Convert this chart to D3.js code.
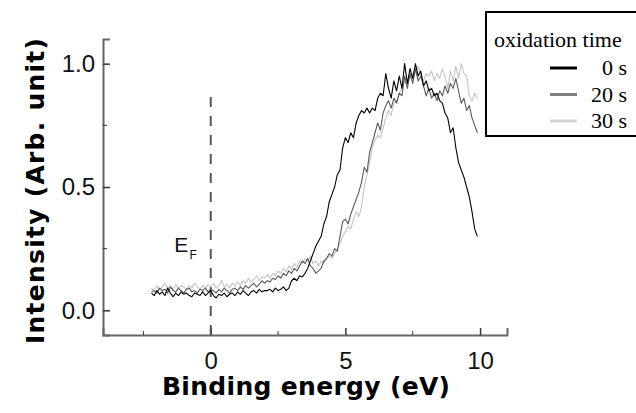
<!DOCTYPE html>
<html>
<head>
<meta charset="utf-8">
<script src="https://cdn.jsdelivr.net/npm/d3@7"></script>
<style>
  body { margin: 0; background: #fff; }
  svg { display: block; }
</style>
</head>
<body>
<div id="chart"></div>
<script>
// binding energy grid (eV)
var energy = [
  -2.2, -2.1, -2.0, -1.9, -1.8, -1.7, -1.6, -1.5, -1.4, -1.3, -1.2, -1.1, -1.0,
  -0.9, -0.8, -0.7, -0.6, -0.5, -0.4, -0.3, -0.2, -0.1, 0.0,
  0.1, 0.2, 0.3, 0.4, 0.5, 0.6, 0.7, 0.8, 0.9, 1.0,
  1.1, 1.2, 1.3, 1.4, 1.5, 1.6, 1.7, 1.8, 1.9, 2.0,
  2.1, 2.2, 2.3, 2.4, 2.5, 2.6, 2.7, 2.8, 2.9, 3.0,
  3.1, 3.2, 3.3, 3.4, 3.5, 3.6, 3.7, 3.8, 3.9, 4.0,
  4.1, 4.2, 4.3, 4.4, 4.5, 4.6, 4.7, 4.8, 4.9, 5.0,
  5.1, 5.2, 5.3, 5.4, 5.5, 5.6, 5.7, 5.8, 5.9, 6.0,
  6.1, 6.2, 6.3, 6.4, 6.5, 6.6, 6.7, 6.8, 6.9, 7.0,
  7.1, 7.2, 7.3, 7.4, 7.5, 7.6, 7.7, 7.8, 7.9, 8.0,
  8.1, 8.2, 8.3, 8.4, 8.5, 8.6, 8.7, 8.8, 8.9, 9.0,
  9.1, 9.2, 9.3, 9.4, 9.5, 9.6, 9.7, 9.8, 9.9
];

// intensity, 0 s
var int0s = [
  0.07, 0.06, 0.08, 0.065, 0.075, 0.06, 0.09, 0.07, 0.055, 0.07, 0.06, 0.075, 0.065,
  0.07, 0.06, 0.055, 0.07, 0.065, 0.06, 0.075, 0.06, 0.07, 0.08,
  0.06, 0.05, 0.065, 0.06, 0.07, 0.055, 0.065, 0.07, 0.06, 0.075,
  0.065, 0.08, 0.07, 0.06, 0.075, 0.08, 0.07, 0.085, 0.075, 0.08,
  0.08, 0.085, 0.075, 0.09, 0.08, 0.085, 0.095, 0.08, 0.09, 0.12,
  0.13, 0.12, 0.14, 0.135, 0.15, 0.17, 0.2, 0.23, 0.26, 0.28,
  0.3, 0.35, 0.38, 0.44, 0.47, 0.5, 0.55, 0.57, 0.66, 0.7,
  0.68, 0.72, 0.7, 0.76, 0.79, 0.81, 0.8, 0.82, 0.8, 0.82,
  0.81, 0.86, 0.88, 0.87, 0.96, 0.9, 0.86, 0.93, 0.89, 0.95,
  0.9, 1.0, 0.92, 0.98, 0.94, 1.0, 0.95, 0.97, 0.91, 0.93,
  0.89, 0.9, 0.87, 0.88, 0.85, 0.84, 0.8, 0.78, 0.72, 0.74,
  0.66, 0.6, 0.57, 0.54, 0.5, 0.46, 0.4, 0.33, 0.3
];

// intensity, 20 s
var int20s = [
  0.075, 0.08, 0.07, 0.09, 0.08, 0.085, 0.07, 0.095, 0.08, 0.075, 0.09, 0.08, 0.07,
  0.085, 0.09, 0.075, 0.08, 0.07, 0.085, 0.08, 0.09, 0.075, 0.085,
  0.08, 0.07, 0.085, 0.075, 0.09, 0.08, 0.07, 0.085, 0.09, 0.08,
  0.095, 0.085, 0.1, 0.09, 0.1, 0.11, 0.095, 0.105, 0.12, 0.11,
  0.12, 0.115, 0.13, 0.125, 0.14, 0.13, 0.15, 0.14, 0.16, 0.15,
  0.17, 0.16, 0.18, 0.2, 0.19, 0.21, 0.18, 0.17, 0.15, 0.16,
  0.17, 0.2, 0.21, 0.23, 0.22, 0.25, 0.24, 0.3, 0.36, 0.37,
  0.35, 0.39, 0.42, 0.45, 0.48, 0.52, 0.58, 0.56, 0.64, 0.68,
  0.72, 0.76, 0.73, 0.8, 0.83, 0.85, 0.82, 0.86, 0.84, 0.88,
  0.87, 0.95, 0.9, 0.96, 0.92, 0.98, 0.93, 0.95, 0.91, 0.87,
  0.9, 0.86, 0.88, 0.85, 0.89, 0.87, 0.91, 0.88, 0.92, 0.9,
  0.94, 0.89, 0.84, 0.86, 0.81, 0.83, 0.78, 0.75, 0.72
];

// intensity, 30 s
var int30s = [
  0.09, 0.08, 0.1, 0.085, 0.095, 0.11, 0.09, 0.1, 0.085, 0.105, 0.09, 0.1, 0.095,
  0.085, 0.1, 0.09, 0.11, 0.095, 0.085, 0.1, 0.09, 0.105, 0.095,
  0.11, 0.09, 0.1, 0.12, 0.095, 0.105, 0.09, 0.11, 0.1, 0.115,
  0.1, 0.12, 0.11, 0.13, 0.115, 0.125, 0.14, 0.12, 0.135, 0.13,
  0.145, 0.13, 0.15, 0.14, 0.16, 0.15, 0.17, 0.155, 0.18, 0.165,
  0.19, 0.175, 0.2, 0.19, 0.21, 0.2, 0.22, 0.19, 0.2, 0.18,
  0.2, 0.19, 0.21, 0.22, 0.21, 0.23, 0.25, 0.27, 0.3, 0.32,
  0.34, 0.33, 0.37, 0.4, 0.38, 0.42, 0.5, 0.55, 0.6, 0.66,
  0.69, 0.71, 0.7, 0.74, 0.78, 0.81, 0.79, 0.84, 0.85, 0.88,
  0.9, 0.93, 0.91, 0.95, 0.94, 0.97, 0.99, 0.95, 0.93, 0.96,
  0.95, 0.97, 0.93, 0.96, 0.94, 0.98, 0.95, 0.9, 0.97, 0.93,
  0.99, 0.94, 1.0, 0.96, 0.95, 0.87, 0.85, 0.88, 0.86
];

var seriesNames = ["0 s", "20 s", "30 s"];
var seriesColors = ["#000000", "#5a5a5a", "#c4c4c4"];
var legendColors = ["#000000", "#808080", "#d6d6d6"];

var xMajorTicks = [0, 5, 10];
var xMinorTicks = [-2.5, 2.5, 7.5];
var yMajorTicks = [0.0, 0.5, 1.0];
var yMinorTicks = [0.25, 0.75];
var fermiTop = 0.865;

var width = 636, height = 413;
var margin = { top: 39, right: 129, bottom: 78, left: 103 };

var svg = d3.select("#chart").append("svg")
  .attr("width", width)
  .attr("height", height);

var x = d3.scaleLinear()
  .domain([-4, 11])
  .range([margin.left, width - margin.right]);

var y = d3.scaleLinear()
  .domain([-0.1, 1.1])
  .range([height - margin.bottom, margin.top]);

// axes (ticks point inward)
var xAxis = svg.append("g")
  .attr("transform", "translate(0," + (height - margin.bottom) + ")")
  .call(d3.axisBottom(x).tickValues(xMajorTicks).tickSize(-7).tickPadding(17)
    .tickFormat(d3.format("d")));

xAxis.selectAll(".minor")
  .data(xMinorTicks)
  .enter().append("line")
  .attr("class", "minor")
  .attr("x1", function (d) { return x(d); })
  .attr("x2", function (d) { return x(d); })
  .attr("y1", 0).attr("y2", -4)
  .attr("stroke", "#333");

var yAxis = svg.append("g")
  .attr("transform", "translate(" + margin.left + ",0)")
  .call(d3.axisLeft(y).tickValues(yMajorTicks).tickSize(-7).tickPadding(8)
    .tickFormat(d3.format(".1f")));

yAxis.selectAll(".minor")
  .data(yMinorTicks)
  .enter().append("line")
  .attr("class", "minor")
  .attr("y1", function (d) { return y(d); })
  .attr("y2", function (d) { return y(d); })
  .attr("x1", 0).attr("x2", 4)
  .attr("stroke", "#333");

svg.selectAll(".domain")
  .attr("stroke", "#666")
  .attr("stroke-width", 2);
svg.selectAll(".tick line")
  .attr("stroke", "#333")
  .attr("stroke-width", 1.5);
svg.selectAll(".tick text")
  .attr("font-family", "Liberation Sans, Arial, sans-serif")
  .attr("font-size", 24)
  .attr("fill", "#111");

// Fermi level marker
svg.append("line")
  .attr("x1", x(0)).attr("x2", x(0))
  .attr("y1", y(fermiTop)).attr("y2", y(-0.1))
  .attr("stroke", "#555")
  .attr("stroke-width", 2)
  .attr("stroke-dasharray", "10,9");

var ef = svg.append("text")
  .attr("x", x(-1.35))
  .attr("y", y(0.238))
  .attr("font-family", "Liberation Sans, Arial, sans-serif")
  .attr("font-size", 21)
  .attr("fill", "#111")
  .text("E");
ef.append("tspan")
  .attr("font-size", 12)
  .attr("dx", 1)
  .attr("dy", 7)
  .text("F");

// spectra
var allSeries = [int0s, int20s, int30s];
var line = d3.line()
  .x(function (d, i) { return x(energy[i]); })
  .y(function (d) { return y(d); });

[2, 1, 0].forEach(function (k) {
  svg.append("path")
    .datum(allSeries[k])
    .attr("d", line)
    .attr("fill", "none")
    .attr("stroke", seriesColors[k])
    .attr("stroke-width", 1.1)
    .attr("stroke-linejoin", "round");
});

// axis titles
svg.append("text")
  .attr("x", 306)
  .attr("y", 395)
  .attr("text-anchor", "middle")
  .attr("font-family", "DejaVu Sans, sans-serif")
  .attr("font-weight", "bold")
  .attr("font-size", 25)
  .attr("textLength", 288)
  .attr("lengthAdjust", "spacing")
  .attr("fill", "#000")
  .text("Binding energy (eV)");

svg.append("text")
  .attr("transform", "translate(44,191) rotate(-90)")
  .attr("text-anchor", "middle")
  .attr("font-family", "DejaVu Sans, sans-serif")
  .attr("font-weight", "bold")
  .attr("font-size", 25)
  .attr("textLength", 306)
  .attr("lengthAdjust", "spacing")
  .attr("fill", "#000")
  .text("Intensity (Arb. unit)");

// legend
var legend = svg.append("g");
legend.append("rect")
  .attr("x", 486).attr("y", 12)
  .attr("width", 160).attr("height", 124)
  .attr("fill", "#fff")
  .attr("stroke", "#000")
  .attr("stroke-width", 2);
legend.append("text")
  .attr("x", 494).attr("y", 47)
  .attr("font-family", "Liberation Serif, Times New Roman, serif")
  .attr("font-size", 22)
  .text("oxidation time");

var legendRows = legend.selectAll(".row")
  .data(seriesNames)
  .enter().append("g")
  .attr("class", "row")
  .attr("transform", function (d, i) { return "translate(0," + (75 + i * 26.5) + ")"; });
legendRows.append("line")
  .attr("x1", 550).attr("x2", 577)
  .attr("y1", -7).attr("y2", -7)
  .attr("stroke", function (d, i) { return legendColors[i]; })
  .attr("stroke-width", 3);
legendRows.append("text")
  .attr("x", 627)
  .attr("text-anchor", "end")
  .attr("font-family", "Liberation Serif, Times New Roman, serif")
  .attr("font-size", 22)
  .text(function (d) { return d; });
</script>
</body>
</html>
